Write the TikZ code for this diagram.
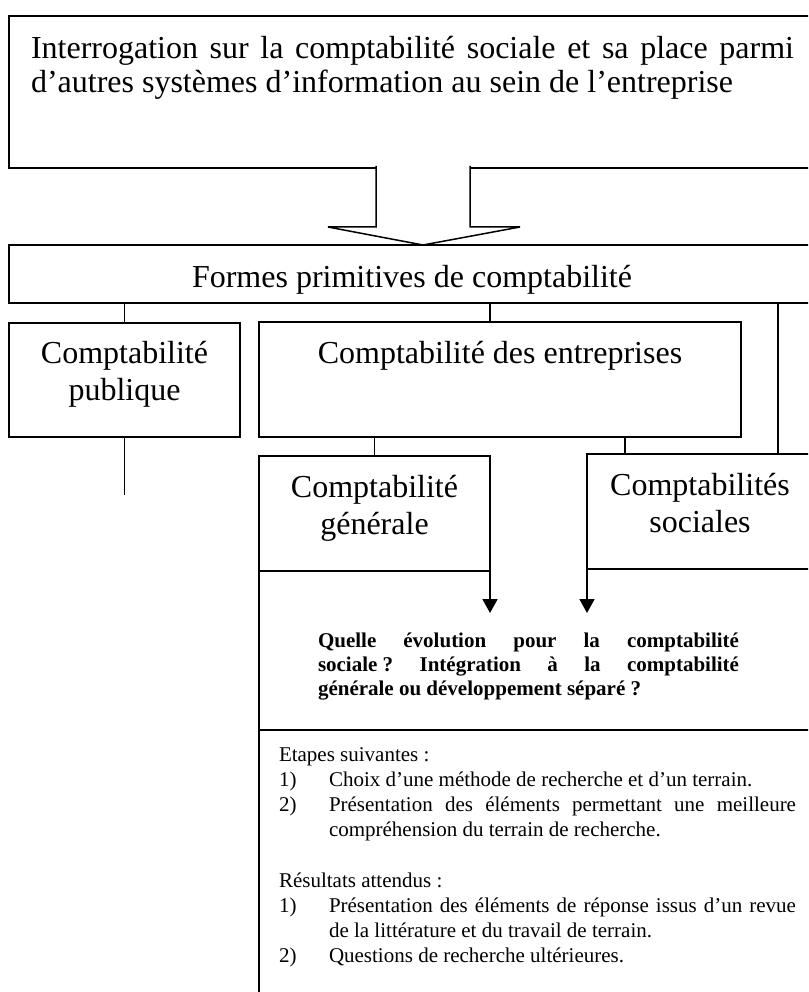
\documentclass[tikz,border=0pt]{standalone}
\usepackage{fontspec}
\setmainfont{Liberation Serif}
\usetikzlibrary{arrows.meta}
\newcommand{\bigtxt}{\fontsize{32}{37}\selectfont}
\newcommand{\toptxt}{\fontsize{32}{34}\selectfont}
\newcommand{\smalltxt}{\fontsize{21}{25}\selectfont}
\newcommand{\qtxt}{\bfseries\fontsize{21}{24}\selectfont}
\begin{document}
\begin{tikzpicture}[x=1pt,y=-1pt,
  box/.style={draw, line width=1.5pt, inner sep=0pt, outer sep=0pt, anchor=north west},
  txt/.style={inner sep=0pt, outer sep=0pt},
  label2/.style={txt, font=\bigtxt, align=center, anchor=base},
  link/.style={line width=1.4pt},
  arr/.style={line width=1.8pt, -{Triangle[width=15pt,length=14pt]}}]
\useasboundingbox (0,0) rectangle (808,992);
\clip (0,0) rectangle (808,992);

% boxes
\node[box, minimum width=830pt, minimum height=152pt] (top) at (9,16) {};
\node[box, minimum width=830pt, minimum height=58pt] (formes) at (9,245) {};
\node[box, minimum width=231pt, minimum height=114pt] (pub) at (9,323) {};
\node[box, minimum width=482pt, minimum height=115pt] (ent) at (259,322) {};
\node[box, minimum width=231pt, minimum height=115pt] (gen) at (259,456) {};
\node[box, minimum width=226pt, minimum height=115pt] (soc) at (587,454) {};

% block arrow between the two upper boxes
\draw[line width=1.5pt, fill=white]
  (376,166) -- (376,227) -- (328,227) -- (423,245) -- (520,227) -- (470,227) -- (470,166);

% texts in the boxes
\node[txt, text width=763pt, align=justify, font=\toptxt, anchor=base west] (t-top) at (31,59)
  {Interrogation sur la comptabilité sociale et sa place parmi\linebreak d’autres systèmes d’information au sein de l’entreprise};
\node[txt, font=\bigtxt, anchor=base] (t-formes) at (412,287) {Formes primitives de comptabilité};
\node[label2, text width=231pt] (t-pub) at (124.5,363) {Comptabilité\\publique};
\node[txt, font=\bigtxt, anchor=base] (t-ent) at (500,363) {Comptabilité des entreprises};
\node[label2, text width=231pt] (t-gen) at (374.5,497) {Comptabilité\\générale};
\node[label2, text width=226pt] (t-soc) at (700,495) {Comptabilités\\sociales};

% connectors
\coordinate (pubend) at (124.5,495);
\coordinate (tipA) at (490,613);
\coordinate (tipB) at (587,613);
\coordinate (lowleft) at (259,1000);
\coordinate (divL) at (259,730);
\coordinate (divR) at (840,730);

\draw[link] (formes.south -| pub.north) -- (pub.north);
\draw[link] (formes.south -| 490,0) -- (ent.north -| 490,0);
\draw[link] (formes.south -| 778,0) -- (soc.north -| 778,0);
\draw[link] (pub.south) -- (pubend);
\draw[link] (ent.south -| gen.north) -- (gen.north);
\draw[link] (ent.south -| 625,0) -- (soc.north -| 625,0);

\draw[arr] (gen.south east) -- (tipA);
\draw[arr] (soc.south west) -- (tipB);
\draw[line width=1.5pt] (gen.south west) -- (lowleft);
\draw[line width=1.5pt] (divL) -- (divR);

% research question
\node[txt, text width=421pt, align=justify, font=\qtxt, anchor=base west] (quest) at (318,647)
  {Quelle évolution pour la comptabilité\linebreak \hbox{sociale ?} Intégration à la comptabilité\linebreak générale ou développement séparé ?};

% next steps and expected results
\begin{scope}[every node/.style={txt, font=\smalltxt, anchor=base west}]
\node (etapes) at (279,761) {Etapes suivantes :};
\node (n1) at (279,786) {1)};
\node[text width=467pt, align=justify] (i1) at (329,786) {Choix d’une méthode de recherche et d’un terrain.};
\node (n2) at (279,811) {2)};
\node[text width=467pt, align=justify] (i2) at (329,811) {Présentation des éléments permettant une meilleure\linebreak compréhension du terrain de recherche.};
\node (res) at (279,887) {Résultats attendus :};
\node (n3) at (279,912) {1)};
\node[text width=467pt, align=justify] (i3) at (329,912) {Présentation des éléments de réponse issus d’un revue\linebreak de la littérature et du travail de terrain.};
\node (n4) at (279,962) {2)};
\node[text width=467pt, align=justify] (i4) at (329,962) {Questions de recherche ultérieures.};
\end{scope}
\end{tikzpicture}
\end{document}
